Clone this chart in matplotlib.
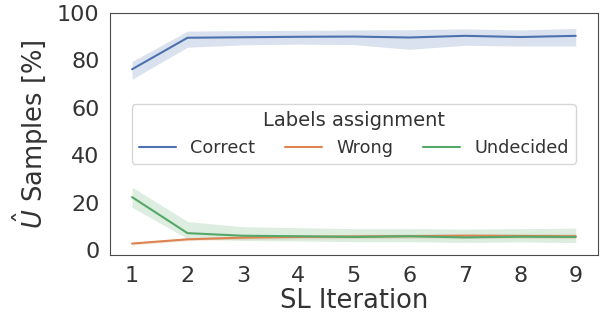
import matplotlib
matplotlib.use('Agg')
import matplotlib.pyplot as plt
import seaborn as sns


# data #

iterations = [1, 2, 3, 4, 5, 6, 7, 8, 9]

correct = [76.2, 89.5, 89.7, 89.9, 90.0, 89.6, 90.3, 89.8, 90.3]
correct_lo = [72.0, 85.5, 86.5, 86.8, 86.6, 84.6, 86.3, 86.0, 86.0]
correct_hi = [79.5, 92.3, 92.5, 92.6, 92.8, 92.9, 93.2, 92.8, 93.4]

wrong = [2.7, 4.5, 5.2, 5.5, 5.7, 5.8, 6.0, 5.9, 5.8]
wrong_lo = [2.2, 3.9, 4.5, 4.7, 4.8, 4.9, 5.0, 4.9, 4.8]
wrong_hi = [3.2, 5.1, 5.9, 6.3, 6.6, 6.7, 7.0, 6.9, 6.8]

undecided = [22.3, 7.1, 6.0, 5.8, 5.5, 5.8, 5.3, 5.6, 5.5]
undecided_lo = [18.0, 4.8, 4.0, 3.8, 3.5, 3.5, 3.2, 3.4, 3.1]
undecided_hi = [26.5, 12.0, 9.8, 9.4, 9.0, 9.0, 8.8, 9.0, 9.2]

series = [
    ('Correct', correct, correct_lo, correct_hi),
    ('Wrong', wrong, wrong_lo, wrong_hi),
    ('Undecided', undecided, undecided_lo, undecided_hi),
]


# build the figure #

sns.set_style('white', {'axes.edgecolor': '#4a4a4a', 'text.color': '#333333',
                        'axes.labelcolor': '#333333', 'xtick.color': '#333333',
                        'ytick.color': '#333333'})
colors = sns.color_palette('deep')

fig, ax = plt.subplots(figsize=(6.07, 3.21), dpi=100)

for i, (name, y, lo, hi) in enumerate(series):
    ax.plot(iterations, y, color=colors[i], lw=1.5, label=name)
    ax.fill_between(iterations, lo, hi, color=colors[i], alpha=0.2, lw=0)

ax.set_xlim(0.6, 9.4)
ax.set_ylim(-2.2, 100)
ax.set_xticks(iterations)
ax.set_yticks([0, 20, 40, 60, 80, 100])
ax.tick_params(labelsize=16, pad=4)
ax.set_xlabel('SL Iteration', fontsize=18.5, labelpad=2)
ax.set_ylabel(r'$\hat{U}$ Samples [%]', fontsize=18.5)

leg = ax.legend(title='Labels assignment', loc='center', ncol=3,
                fontsize=12.7, title_fontsize=14, columnspacing=1.7,
                handlelength=2.1, handletextpad=0.8)

fig.subplots_adjust(left=0.181, right=0.985, top=0.96, bottom=0.205)

plt.savefig('out.png', dpi=100)
